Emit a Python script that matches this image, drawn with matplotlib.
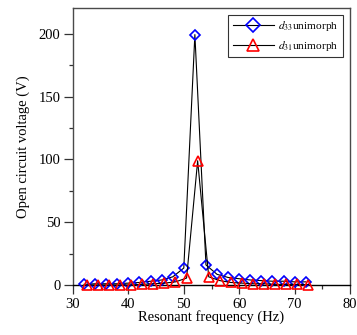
import matplotlib
matplotlib.use("Agg")
import matplotlib.pyplot as plt
from matplotlib.ticker import MultipleLocator

plt.rcParams['font.family'] = ['Liberation Serif', 'DejaVu Serif']
plt.rcParams['mathtext.fontset'] = 'stix'

# resonant frequency (Hz) and open circuit voltage (V)
freq_d33 = [32, 34, 36, 38, 40, 42, 44, 46, 48, 50, 52, 54, 56, 58, 60, 62, 64, 66, 68, 70, 72]
volt_d33 = [0.5, 1, 1, 1, 1.5, 2, 3, 4, 6.5, 13.5, 199.5, 16, 8.5, 6, 5, 4, 3.5, 3, 3, 2.5, 2.5]

freq_d31 = [32.5, 34.5, 36.5, 38.5, 40.5, 42.5, 44.5, 46.5, 48.5, 50.5, 52.5, 54.5, 56.5,
            58.5, 60.5, 62.5, 64.5, 66.5, 68.5, 70.5, 72.5]
volt_d31 = [0, 0, 0, 0, 0, 0.5, 1, 1.5, 2.5, 5.5, 99, 6.5, 3.5, 2, 1.5, 1, 1, 0.5, 0.5, 0.5, 0.3]

fig = plt.figure(figsize=(3.57, 3.35), dpi=100)
# axes box: left 73px, right 350px, top 8px, bottom (y=0) 285px
ax = fig.add_axes([73 / 357, 50 / 335, 277 / 357, 277 / 335])

ax.plot(freq_d33, volt_d33, color='black', lw=0.8, marker='D', ms=5,
        mfc='none', mec='blue', mew=1.2, label='$d_{33}$unimorph', clip_on=False, zorder=3)
ax.plot(freq_d31, volt_d31, color='black', lw=0.8, marker='^', ms=6.5,
        mfc='none', mec='red', mew=1.2, label='$d_{31}$unimorph', clip_on=False, zorder=3)

ax.set_xlim(30, 80)
ax.set_ylim(0, 220.7)
ax.xaxis.set_major_locator(MultipleLocator(10))
ax.xaxis.set_minor_locator(MultipleLocator(5))
ax.yaxis.set_major_locator(MultipleLocator(50))
ax.yaxis.set_minor_locator(MultipleLocator(25))
ax.set_yticks([0, 50, 100, 150, 200])

for s in ['left', 'right', 'top']:
    ax.spines[s].set_color('#4a4a4a')
    ax.spines[s].set_linewidth(1.0)
ax.spines['bottom'].set_color('black')
ax.spines['bottom'].set_linewidth(1.0)

ax.tick_params(which='both', direction='out', labelsize=10.5, top=False, right=False,
               color='#333333', width=0.9)
ax.tick_params(which='major', length=6.5, pad=2.5)
ax.tick_params(which='minor', length=3)

ax.set_xlabel('Resonant frequency (Hz)', fontsize=10.5, labelpad=0)
ax.set_ylabel('Open circuit voltage (V)', fontsize=10.5, labelpad=6)

leg = ax.legend(loc='upper right', fontsize=8.2, frameon=True, fancybox=False,
                edgecolor='black', handlelength=3.6, borderaxespad=0.6,
                handletextpad=0.4, borderpad=0.4, labelspacing=0.45, markerscale=1.35)
leg.get_frame().set_linewidth(0.8)

fig.savefig('out.png', dpi=100)
